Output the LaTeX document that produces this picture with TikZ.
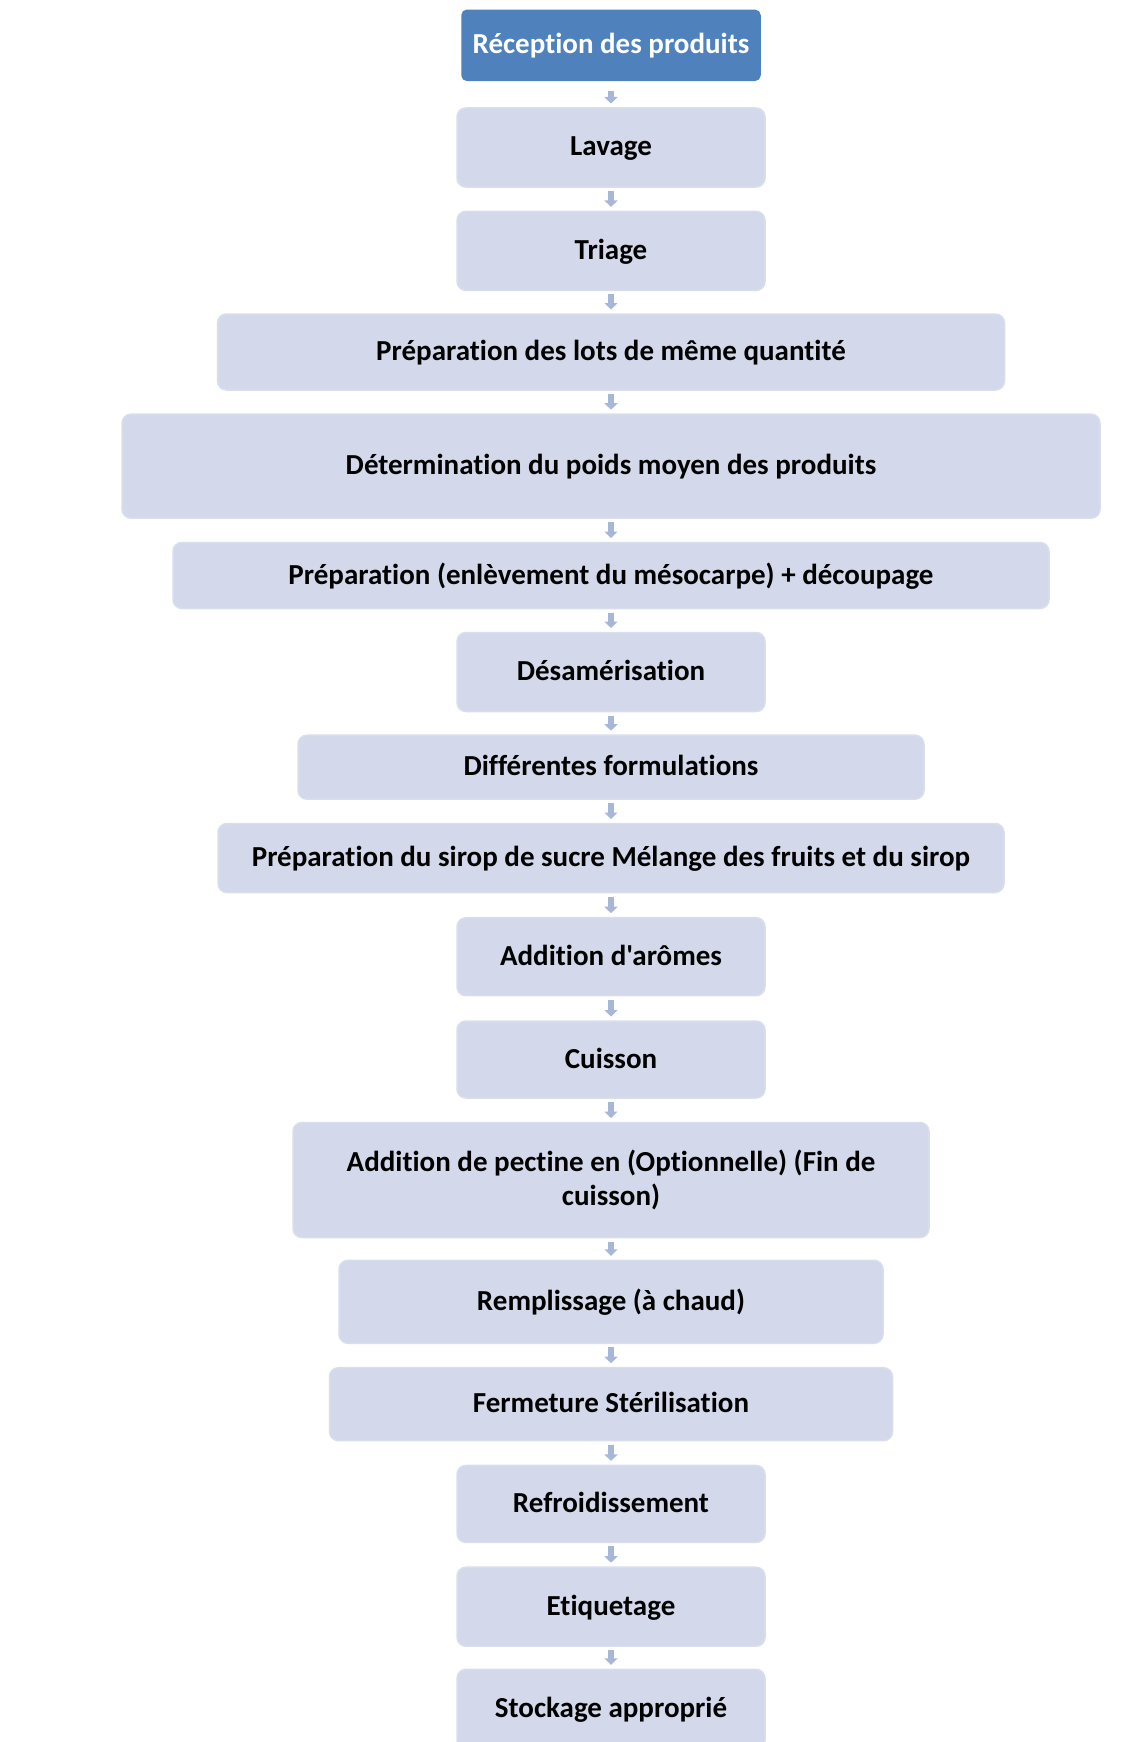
\documentclass[tikz,border=0pt]{standalone}
\usepackage{fontspec}
\setmainfont{Carlito}[Ligatures={TeXOff,NoCommon},RawFeature={-liga;-clig;-dlig;-calt;-hlig}]
\usetikzlibrary{arrows.meta}
\definecolor{boxfill}{HTML}{D3D9EA}
\definecolor{boxline}{HTML}{D9DEED}
\definecolor{topfill}{HTML}{4F81BD}
\definecolor{arrowcol}{HTML}{A7B7D8}
\begin{document}
\begin{tikzpicture}[x=1pt,y=-1pt,
  box/.style={rectangle, rounded corners=9pt, fill=boxfill, draw=boxline, line width=1.5pt,
    inner sep=0pt, outer sep=0pt, align=center, text=black,
    font=\fontsize{29}{34}\selectfont\bfseries},
  one/.style={box, text height=22pt, text depth=5pt},
  topbox/.style={one, fill=topfill, draw=topfill, rounded corners=5pt, text=white},
  flow/.style={draw=arrowcol, line width=6.5pt, -{Triangle[width=13pt,length=6.5pt]},
    shorten <=4pt, shorten >=4.5pt}]
\useasboundingbox (0,0) rectangle (1129,1742);
\clip (0,0) rectangle (1129,1742);
\fill[white] (0,0) rectangle (1129,1742);
% boxes: centre x = 611
\node[topbox, minimum width=298pt, minimum height=70pt] (n1) at (611,45.3) {Réception des produits};
\node[one, minimum width=308pt, minimum height=79pt] (n2) at (611,147.5) {Lavage};
\node[one, minimum width=308pt, minimum height=79pt] (n3) at (611,250.9) {Triage};
\node[one, minimum width=787pt, minimum height=76pt] (n4) at (611,352) {Préparation des lots de même quantité};
\node[one, minimum width=978pt, minimum height=104pt] (n5) at (611,466.2) {Détermination du poids moyen des produits};
\node[one, minimum width=876pt, minimum height=66pt] (n6) at (611,575.5) {Préparation (enlèvement du mésocarpe) + découpage};
\node[one, minimum width=308pt, minimum height=79pt] (n7) at (611,672) {Désamérisation};
\node[one, minimum width=626pt, minimum height=64pt] (n8) at (611,767.2) {Différentes formulations};
\node[one, minimum width=786pt, minimum height=69pt] (n9) at (611,858) {Préparation du sirop de sucre Mélange des fruits et du sirop};
\node[one, minimum width=308pt, minimum height=78pt] (n10) at (611,956.7) {Addition d'arômes};
\node[one, minimum width=308pt, minimum height=77pt] (n11) at (611,1059.5) {Cuisson};
\node[box, minimum width=636pt, minimum height=115pt] (n12) at (611,1180) {Addition de pectine en (Optionnelle) (Fin de\\cuisson)};
\node[one, minimum width=544pt, minimum height=83pt] (n13) at (611,1301.8) {Remplissage (à chaud)};
\node[one, minimum width=563pt, minimum height=73pt] (n14) at (611,1404.2) {Fermeture Stérilisation};
\node[one, minimum width=308pt, minimum height=77pt] (n15) at (611,1503.9) {Refroidissement};
\node[one, minimum width=308pt, minimum height=79pt] (n16) at (611,1606.7) {Etiquetage};
\node[one, minimum width=308pt, minimum height=80pt] (n17) at (611,1709.3) {Stockage approprié};
% arrows
\draw[flow, shorten <=11pt] (n1.south) -- (n2.north);
\draw[flow] (n2.south) -- (n3.north);
\draw[flow] (n3.south) -- (n4.north);
\draw[flow] (n4.south) -- (n5.north);
\draw[flow] (n5.south) -- (n6.north);
\draw[flow] (n6.south) -- (n7.north);
\draw[flow] (n7.south) -- (n8.north);
\draw[flow] (n8.south) -- (n9.north);
\draw[flow] (n9.south) -- (n10.north);
\draw[flow] (n10.south) -- (n11.north);
\draw[flow] (n11.south) -- (n12.north);
\draw[flow] (n12.south) -- (n13.north);
\draw[flow] (n13.south) -- (n14.north);
\draw[flow] (n14.south) -- (n15.north);
\draw[flow] (n15.south) -- (n16.north);
\draw[flow] (n16.south) -- (n17.north);
\end{tikzpicture}
\end{document}
